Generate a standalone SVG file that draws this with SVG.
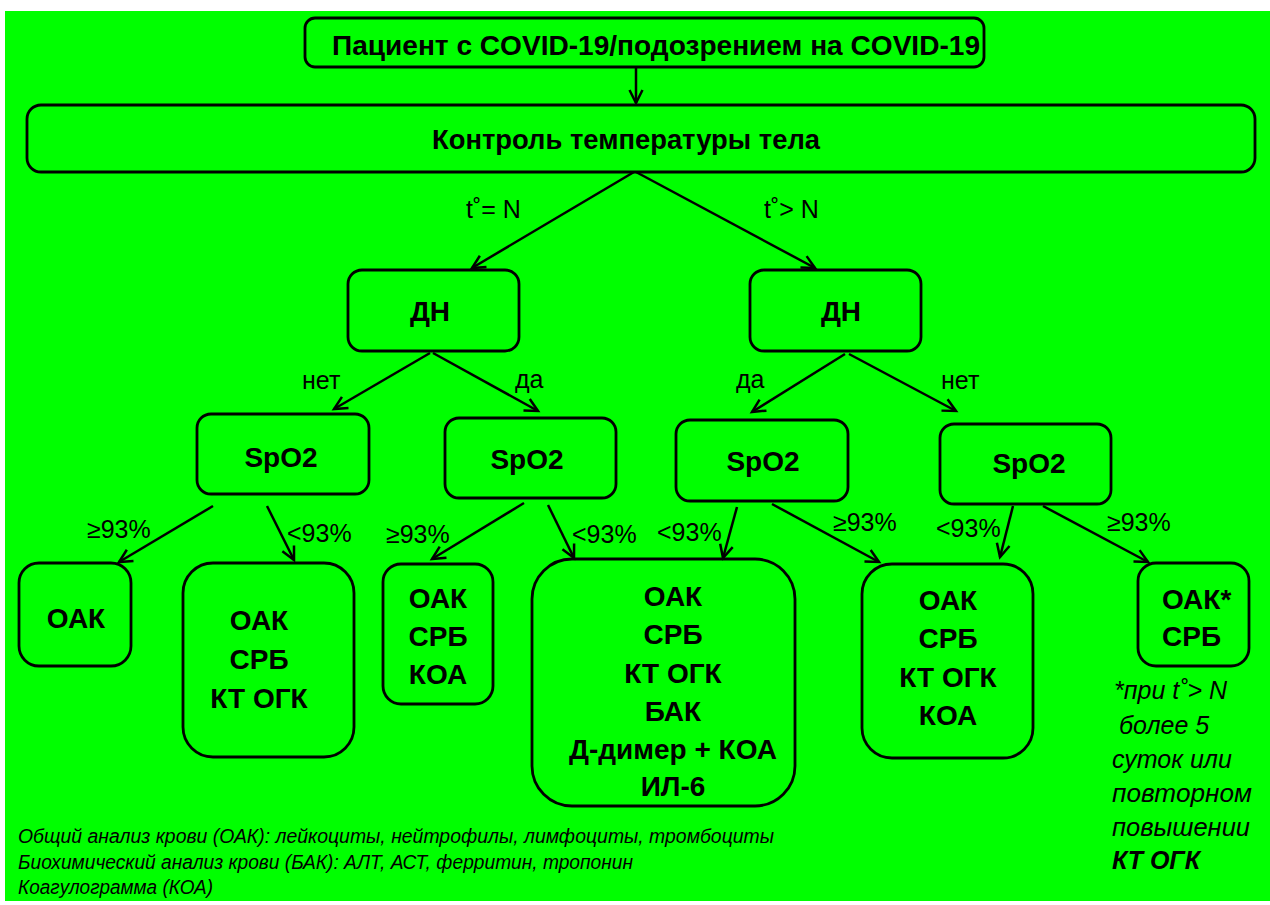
<svg xmlns="http://www.w3.org/2000/svg" width="1270" height="905" viewBox="0 0 1270 905">
<defs>
<marker id="ah" markerWidth="18" markerHeight="18" refX="14" refY="8" orient="auto" markerUnits="userSpaceOnUse">
<path d="M1,1.5 L14,8 L1,14.5" fill="none" stroke="#000" stroke-width="2.5"/>
</marker>
<style>
.box{fill:#00FF00;stroke:#000;stroke-width:2.8}
.b{font-family:"Liberation Sans",Arial,sans-serif;font-weight:bold;font-size:28px;fill:#000;text-anchor:middle}
.bs{text-anchor:start}
.lbl{font-family:"Liberation Sans",Arial,sans-serif;font-size:25px;fill:#000}
.it{font-family:"Liberation Sans",Arial,sans-serif;font-style:italic;fill:#000}
.con line{stroke:#000;stroke-width:2.5;marker-end:url(#ah)}
</style>
</defs>
<rect x="0" y="0" width="1270" height="905" fill="#fff"/>
<rect x="5" y="11" width="1265" height="890" fill="#00FF00"/>

<g id="n-patient">
<rect class="box" x="305" y="18" width="679" height="49" rx="10"/>
<text class="b" x="656" y="55" font-size="29" textLength="648" lengthAdjust="spacingAndGlyphs">Пациент с COVID-19/подозрением на COVID-19</text>
</g>
<g id="n-temp">
<rect class="box" x="27" y="105" width="1228" height="67" rx="14"/>
<text class="b" x="626" y="149" textLength="388" lengthAdjust="spacingAndGlyphs">Контроль температуры тела</text>
</g>
<g id="n-dn1">
<rect class="box" x="348" y="270" width="171" height="81" rx="14"/>
<text class="b" x="430" y="321">ДН</text>
</g>
<g id="n-dn2">
<rect class="box" x="750" y="270" width="171" height="81" rx="14"/>
<text class="b" x="841" y="321">ДН</text>
</g>
<g id="n-spo1">
<rect class="box" x="197" y="414" width="172" height="80" rx="14"/>
<text class="b" x="281" y="467">SpO2</text>
</g>
<g id="n-spo2">
<rect class="box" x="445" y="418" width="171" height="80" rx="14"/>
<text class="b" x="527" y="469">SpO2</text>
</g>
<g id="n-spo3">
<rect class="box" x="676" y="420" width="172" height="81" rx="14"/>
<text class="b" x="763" y="471">SpO2</text>
</g>
<g id="n-spo4">
<rect class="box" x="940" y="424" width="171" height="80" rx="14"/>
<text class="b" x="1029" y="473">SpO2</text>
</g>

<g id="n-r1">
<rect class="box" x="19" y="563" width="112" height="103" rx="20"/>
<text class="b" x="76" y="628">ОАК</text>
</g>
<g id="n-r2">
<rect class="box" x="183" y="563" width="171" height="194" rx="30"/>
<text class="b" x="259" y="630">ОАК</text>
<text class="b" x="259" y="669">СРБ</text>
<text class="b" x="259" y="708">КТ ОГК</text>
</g>
<g id="n-r3">
<rect class="box" x="383" y="564" width="110" height="140" rx="18"/>
<text class="b" x="438" y="608">ОАК</text>
<text class="b" x="438" y="646">СРБ</text>
<text class="b" x="438" y="684">КОА</text>
</g>
<g id="n-r4">
<rect class="box" x="532" y="559" width="263" height="247" rx="40"/>
<text class="b" x="673" y="606">ОАК</text>
<text class="b" x="673" y="644">СРБ</text>
<text class="b" x="673" y="683">КТ ОГК</text>
<text class="b" x="673" y="721">БАК</text>
<text class="b" x="673" y="759">Д-димер + КОА</text>
<text class="b" x="673" y="796">ИЛ-6</text>
</g>
<g id="n-r5">
<rect class="box" x="862" y="564" width="171" height="194" rx="30"/>
<text class="b" x="948" y="610">ОАК</text>
<text class="b" x="948" y="648">СРБ</text>
<text class="b" x="948" y="687">КТ ОГК</text>
<text class="b" x="948" y="725">КОА</text>
</g>
<g id="n-r6">
<rect class="box" x="1138" y="563" width="111" height="103" rx="18"/>
<text class="b bs" x="1162" y="609">ОАК*</text>
<text class="b bs" x="1162" y="646">СРБ</text>
</g>

<g id="connectors" class="con">
<line x1="636" y1="67" x2="636" y2="103"/>
<line x1="634" y1="172" x2="472" y2="268"/>
<line x1="636" y1="172" x2="815" y2="268"/>
<line x1="430" y1="353" x2="334" y2="409"/>
<line x1="433" y1="353" x2="538" y2="411"/>
<line x1="845" y1="354" x2="752" y2="412"/>
<line x1="849" y1="354" x2="956" y2="411"/>
<line x1="213" y1="506" x2="119" y2="562"/>
<line x1="267" y1="506" x2="294" y2="560"/>
<line x1="524" y1="503" x2="432" y2="559"/>
<line x1="548" y1="505" x2="574" y2="558"/>
<line x1="737" y1="507" x2="723" y2="558"/>
<line x1="772" y1="504" x2="879" y2="562"/>
<line x1="1013" y1="506" x2="1000" y2="557"/>
<line x1="1043" y1="506" x2="1148" y2="562"/>
</g>

<g id="labels">
<text class="lbl" x="466" y="218">t˚= N</text>
<text class="lbl" x="764" y="218">t˚> N</text>
<text class="lbl" x="302" y="389">нет</text>
<text class="lbl" x="515" y="388">да</text>
<text class="lbl" x="736" y="388">да</text>
<text class="lbl" x="941" y="389">нет</text>
<text class="lbl" x="87" y="538">≥93%</text>
<text class="lbl" x="287" y="542">&lt;93%</text>
<text class="lbl" x="386" y="543">≥93%</text>
<text class="lbl" x="572" y="543">&lt;93%</text>
<text class="lbl" x="657" y="541">&lt;93%</text>
<text class="lbl" x="833" y="531">≥93%</text>
<text class="lbl" x="936" y="537">&lt;93%</text>
<text class="lbl" x="1107" y="531">≥93%</text>
</g>

<g id="note">
<text class="it" x="1114" y="699" font-size="25">*при  t˚&gt; N</text>
<text class="it" x="1119" y="734" font-size="25"> более 5</text>
<text class="it" x="1112" y="768" font-size="25">суток или</text>
<text class="it" x="1112" y="802" font-size="25" textLength="140" lengthAdjust="spacingAndGlyphs">повторном</text>
<text class="it" x="1112" y="836" font-size="25" textLength="138" lengthAdjust="spacingAndGlyphs">повышении</text>
<text class="it" x="1112" y="869" font-size="25" font-weight="bold">КТ ОГК</text>
</g>

<g id="legend">
<text class="it" x="18" y="843" font-size="19.5" textLength="756" lengthAdjust="spacingAndGlyphs">Общий анализ крови (ОАК): лейкоциты, нейтрофилы, лимфоциты, тромбоциты</text>
<text class="it" x="18" y="869" font-size="19.5" textLength="615" lengthAdjust="spacingAndGlyphs">Биохимический анализ крови (БАК): АЛТ, АСТ, ферритин, тропонин</text>
<text class="it" x="18" y="894" font-size="19.5" textLength="195" lengthAdjust="spacingAndGlyphs">Коагулограмма (КОА)</text>
</g>
</svg>
